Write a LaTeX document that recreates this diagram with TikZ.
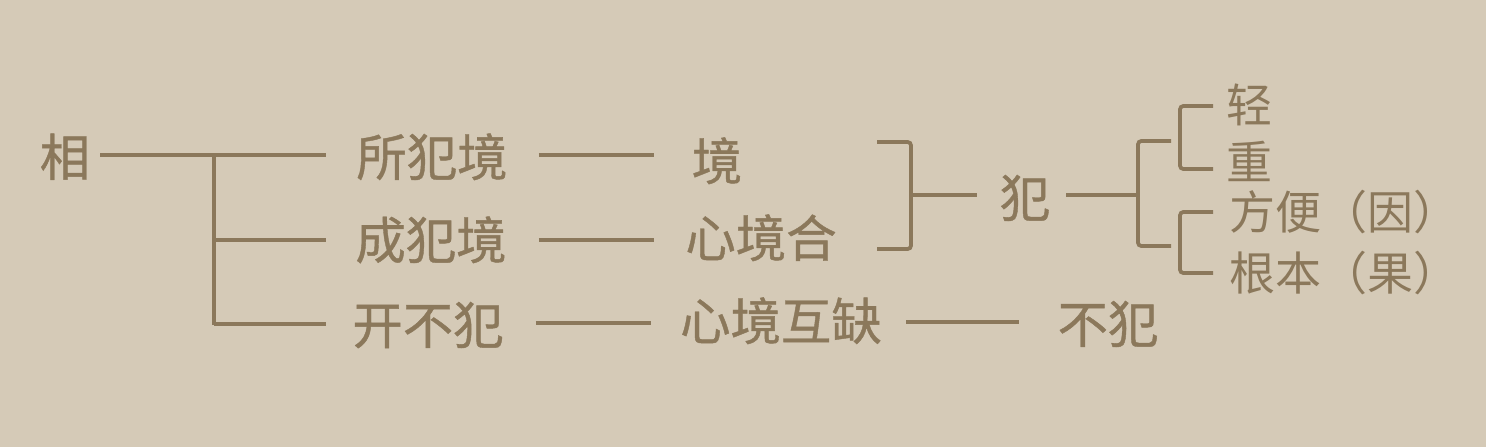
\documentclass[tikz,border=0pt]{standalone}
\usepackage{fontspec}
\newfontfamily\cjk{Noto Sans CJK SC}
\newfontfamily\cjkb[FakeBold=0.8]{Noto Sans CJK SC}
\usetikzlibrary{calc}
\definecolor{bgc}{HTML}{D5CAB7}
\definecolor{fgc}{HTML}{8B785B}
\tikzset{
  big/.style={text=fgc, inner sep=0pt, text height=31.1pt, text depth=2.6pt,
    font=\cjkb\fontsize{37.8}{40}\selectfont},
  small/.style={text=fgc, inner sep=0pt, text height=28.6pt, text depth=2.4pt,
    font=\cjk\fontsize{34.5}{37}\selectfont, anchor=west},
  ln/.style={draw=fgc, line width=2.3pt},
  brk/.style={draw=fgc, line width=2.8pt, rounded corners=2.5pt}
}
\begin{document}
\begin{tikzpicture}[x=0.75pt,y=-0.75pt]
\fill[bgc] (0,0) rectangle (1486,447);
\useasboundingbox (0,0) rectangle (1486,447);
% nodes
\node[big] (xiang) at (65,157) {相};
\node[big] (a1) at (432,157) {所犯境};
\node[big] (a2) at (431,240) {成犯境};
\node[big] (a3) at (428,325) {开不犯};
\node[big] (b1) at (717,161) {境};
\node[big] (b2) at (761,238) {心境合};
\node[big] (b3) at (781,321) {心境互缺};
\node[big] (fan) at (1025,198) {犯};
\node[big] (bufan) at (1108,324) {不犯};
\node[small] (c1) at (1226,105) {轻};
\node[small] (c2) at (1226,162) {重};
\node[small] (c3) at (1229,212) {方便（因）};
\node[small] (c4) at (1229,273) {根本（果）};
% trunk from 相
\coordinate (j0) at (214,155);
\draw[ln] ($(xiang.east)+(10,-2)$) -- ($(a1.west)+(-30,-2)$);
\draw[ln] (j0) -- (214,325);
\draw[ln] (214,240) -- ($(a2.west)+(-29,0)$);
\draw[ln] (214,324) -- ($(a3.west)+(-26,-1)$);
% second column
\draw[ln] ($(a1.east)+(31,-2)$) -- ($(a1.east)+(146,-2)$);
\draw[ln] ($(a2.east)+(32,0)$) -- ($(a2.east)+(147,0)$);
\draw[ln] ($(a3.east)+(32,-2)$) -- ($(a3.east)+(147,-2)$);
\draw[ln] ($(b3.east)+(24,1)$) -- ($(bufan.west)+(-38,-2)$);
% bracket 1
\coordinate (k1t) at (877,142);
\coordinate (k1b) at (877,249);
\draw[brk] (k1t) -- (911,142) -- (911,249) -- (k1b);
\draw[ln] (911,195) -- ($(fan.west)+(-23,-3)$);
\draw[ln] ($(fan.east)+(16,-3)$) -- (1138,195);
% bracket 2
\coordinate (k2t) at (1171,141);
\coordinate (k2b) at (1171,246);
\draw[brk] (k2t) -- (1138,141) -- (1138,246) -- (k2b);
% small brackets
\draw[brk] ($(c1.west)+(-13,1)$) -- (1180,106) -- (1180,169) -- ($(c2.west)+(-13,7)$);
\draw[brk] ($(c3.west)+(-16,0)$) -- (1180,212) -- (1180,273) -- ($(c4.west)+(-16,0)$);
\end{tikzpicture}
\end{document}
